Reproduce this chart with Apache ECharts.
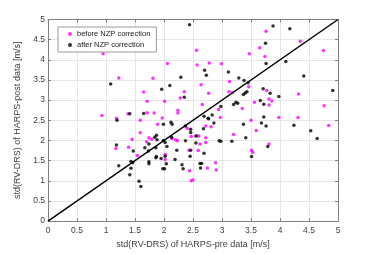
<!DOCTYPE html>
<html><head><meta charset="utf-8">
<script src="https://cdn.jsdelivr.net/npm/echarts@6/dist/echarts.min.js"></script>
<style>html,body{margin:0;padding:0;background:#fff}#c{width:374px;height:254px}</style>
</head><body><div id="c"></div>
<script>
const beforeNZP = [
[0.95,4.15],[1.22,3.55],[0.93,2.62],[1.18,2.55],[1.38,2.66],[1.65,3.20],[1.71,2.97],[1.59,2.50],
[1.71,2.69],[1.83,2.68],[1.81,3.54],[1.89,2.40],[1.97,2.56],[2.01,2.97],[2.06,3.91],[2.24,2.75],
[2.24,2.68],[2.28,3.05],[2.35,3.21],[3.76,4.71],[4.35,4.46],[4.75,4.23],[3.65,4.30],[3.47,4.15],
[3.74,4.08],[2.56,4.24],[2.57,3.87],[2.78,3.92],[2.99,3.90],[2.64,3.38],[3.13,3.46],[3.46,3.33],
[2.77,3.17],[3.12,3.21],[3.18,3.19],[3.77,3.24],[4.32,3.15],[3.81,3.03],[3.86,2.98],[3.81,2.88],
[3.56,2.95],[3.35,2.79],[2.66,2.89],[2.94,2.77],[2.97,2.57],[3.50,2.50],[3.98,2.57],[4.31,2.57],
[4.84,2.37],[4.76,2.86],[2.72,2.36],[1.17,1.80],[1.39,1.83],[1.45,2.03],[1.54,1.63],[1.59,2.19],
[1.70,1.97],[1.74,2.07],[1.79,2.03],[2.02,1.65],[2.02,1.53],[2.14,2.05],[2.20,2.02],[2.23,1.99],
[2.40,2.30],[2.44,1.25],[2.47,2.10],[2.57,2.11],[2.60,2.11],[2.62,1.91],[2.72,2.07],[2.72,1.95],
[2.81,2.34],[2.43,1.76],[2.59,1.75],[2.47,1.00],[2.50,1.02],[2.75,1.32],[2.89,1.45],[2.90,1.27],
[3.20,2.15],[3.59,2.25],[3.51,1.76],[3.53,1.71],[3.81,1.91]
];
const afterNZP = [
[1.08,3.40],[1.19,2.50],[1.41,2.66],[1.65,2.67],[1.96,3.27],[1.99,2.40],[2.10,3.36],[2.12,2.45],
[2.14,2.40],[2.29,3.57],[2.35,3.07],[2.44,4.87],[3.88,4.84],[4.17,4.77],[3.75,4.41],[3.76,3.91],
[4.10,3.96],[2.70,3.74],[2.73,3.62],[3.11,3.70],[3.29,3.55],[3.38,3.49],[3.45,3.43],[3.43,3.21],
[3.40,3.18],[3.37,3.14],[4.41,3.60],[3.71,3.28],[3.83,3.17],[3.98,3.09],[4.91,3.24],[3.66,2.99],
[3.72,2.90],[3.24,2.95],[3.27,2.92],[3.20,2.89],[2.98,2.84],[2.83,2.63],[2.76,2.55],[2.69,2.60],
[2.86,2.43],[3.72,2.58],[3.68,2.43],[3.76,2.36],[4.24,2.38],[3.37,2.40],[2.37,2.36],[1.18,1.89],
[1.22,1.37],[1.47,1.74],[1.43,1.48],[1.46,1.45],[1.43,1.31],[1.41,1.15],[1.57,0.99],[1.60,0.86],
[1.67,1.82],[1.74,1.91],[1.73,1.74],[1.74,1.47],[1.74,1.42],[1.84,2.08],[1.87,2.13],[1.88,2.02],
[1.86,1.82],[1.87,1.60],[1.86,1.57],[1.95,1.55],[1.98,1.30],[2.01,1.30],[2.04,1.42],[2.02,1.61],
[1.99,2.00],[2.02,1.95],[2.05,1.85],[2.13,2.08],[2.22,1.76],[2.19,1.53],[2.31,1.40],[2.33,1.30],
[2.46,2.28],[2.46,2.20],[2.55,2.11],[2.37,1.99],[2.55,1.94],[2.68,2.29],[2.77,2.54],[2.46,1.76],
[2.45,1.61],[2.69,1.68],[2.62,1.43],[2.65,1.43],[2.63,1.32],[2.95,1.99],[2.98,1.98],[3.17,1.98],
[3.41,2.07],[3.51,1.60],[3.79,1.85],[4.53,2.24],[4.64,2.05]
];
const diagonal = [0, 5];
const seriesNames = ['before NZP correction', 'after NZP correction'];
const xName = 'std(RV-DRS) of HARPS-pre data [m/s]';
const yName = 'std(RV-DRS) of HARPS-post data [m/s]';

const FONT = 'Liberation Sans, Arial, sans-serif';
const axisCol = '#808080';
const gridCol = '#e6e6e6';
function mkAxis(pos, showLabel, name, extra) {
  return Object.assign({
    type: 'value', position: pos, min: 0, max: 5, interval: 0.5,
    axisLine: { show: true, onZero: false, lineStyle: { color: axisCol, width: 1 } },
    axisTick: { show: true, inside: true, length: 3, lineStyle: { color: axisCol } },
    axisLabel: { show: showLabel, color: '#404040', fontSize: 8.5, fontFamily: FONT },
    splitLine: { show: showLabel, lineStyle: { color: gridCol, width: 1 } },
    name: name, nameLocation: 'middle',
    nameTextStyle: { color: '#404040', fontSize: 9, fontFamily: FONT }
  }, extra || {});
}
const chart = echarts.init(document.getElementById('c'), null, { renderer: 'canvas' });
chart.setOption({
  animation: false,
  backgroundColor: '#fff',
  grid: { left: 48, right: 36, top: 19.5, bottom: 28, containLabel: false },
  xAxis: [
    mkAxis('bottom', true, xName, { nameGap: 14, axisLabel: { show: true, margin: 5, color: '#404040', fontSize: 8.5, fontFamily: FONT } }),
    mkAxis('top', false, '')
  ],
  yAxis: [
    mkAxis('left', true, yName, { nameGap: 17, axisLabel: { show: true, margin: 3, color: '#404040', fontSize: 8.5, fontFamily: FONT } }),
    mkAxis('right', false, '')
  ],
  legend: {
    orient: 'vertical', left: 58, top: 27,
    padding: [3, 6, 3, 10], itemGap: 3,
    itemWidth: 4, itemHeight: 4,
    backgroundColor: '#fff', borderColor: '#9a9a9a', borderWidth: 1,
    textStyle: { fontSize: 7.5, fontFamily: FONT, color: '#202020', padding: [0, 0, 0, 0] },
    data: [{ name: seriesNames[0], icon: 'circle' }, { name: seriesNames[1], icon: 'circle' }]
  },
  series: [
    { name: seriesNames[0], type: 'scatter', data: beforeNZP, symbolSize: 3.5,
      itemStyle: { color: '#ff00ff' }, z: 3 },
    { name: seriesNames[1], type: 'scatter', data: afterNZP, symbolSize: 3.5,
      itemStyle: { color: '#000000' }, z: 4 },
    { name: 'diag', type: 'line', data: [[diagonal[0], diagonal[0]], [diagonal[1], diagonal[1]]],
      symbol: 'none', lineStyle: { color: '#000', width: 1.5 }, z: 5, silent: true }
  ]
});
</script></body></html>
